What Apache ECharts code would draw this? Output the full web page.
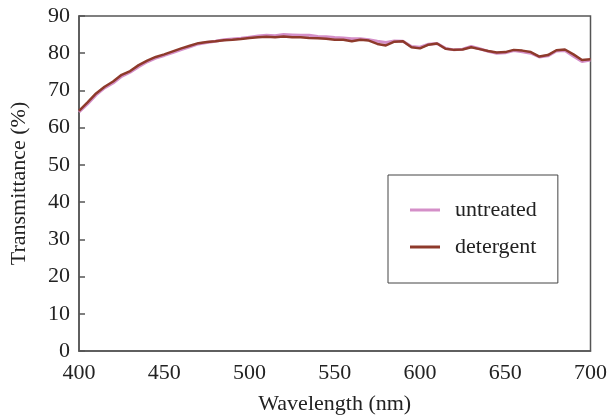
<!DOCTYPE html>
<html><head><meta charset="utf-8">
<script src="https://cdn.jsdelivr.net/npm/echarts@6/dist/echarts.min.js"></script>
<style>html,body{margin:0;padding:0;background:#fff}#c{width:610px;height:420px}</style>
</head><body><div id="c"></div>
<script>
const wavelength = [400,405,410,415,420,425,430,435,440,445,450,455,460,465,470,475,480,485,490,495,500,505,510,515,520,525,530,535,540,545,550,555,560,565,570,575,580,585,590,595,600,605,610,615,620,625,630,635,640,645,650,655,660,665,670,675,680,685,690,695,700];
const untreated = [64.2,66.4,68.8,70.7,72.0,73.8,74.9,76.4,77.7,78.7,79.4,80.2,81.0,81.7,82.5,82.9,83.2,83.6,83.8,84.0,84.3,84.6,84.8,84.7,85.0,84.9,84.8,84.8,84.5,84.4,84.2,84.1,83.9,83.9,83.6,83.2,82.9,83.3,83.2,81.8,81.6,82.4,82.6,81.3,80.9,81.1,81.8,81.2,80.5,80.0,80.1,80.7,80.4,80.0,79.0,79.3,80.6,80.7,79.2,77.8,78.2];
const detergent = [64.5,66.8,69.2,71.0,72.4,74.2,75.2,76.8,78.0,79.0,79.7,80.5,81.3,82.0,82.7,83.0,83.2,83.5,83.6,83.8,84.1,84.3,84.4,84.3,84.5,84.3,84.3,84.1,84.0,83.9,83.6,83.6,83.2,83.6,83.4,82.5,82.1,83.1,83.2,81.6,81.3,82.3,82.6,81.2,80.9,81.0,81.6,81.1,80.6,80.2,80.3,80.9,80.7,80.3,79.1,79.5,80.8,81.0,79.7,78.2,78.4];
const seriesNames = ['untreated','detergent'];
const xTicks = {min:400, max:700, interval:50};
const yTicks = {min:0, max:90, interval:10};

const font = 'Liberation Serif';
const fs = 22;
const chart = echarts.init(document.getElementById('c'), null, {renderer:'canvas'});
const pair = arr => wavelength.map((w,i)=>[w,arr[i]]);
chart.setOption({
  animation:false,
  backgroundColor:'#fff',
  grid:{left:77,right:15,top:16,bottom:66,show:true,borderColor:'#555',borderWidth:1.5,backgroundColor:'transparent'},
  xAxis:{type:'value',min:xTicks.min,max:xTicks.max,interval:xTicks.interval,
    name:'Wavelength (nm)',nameLocation:'middle',nameGap:42,
    nameTextStyle:{fontFamily:font,fontSize:fs,color:'#222'},
    axisLine:{show:true,lineStyle:{color:'#555',width:1.5}},
    axisTick:{show:false},splitLine:{show:false},
    axisLabel:{fontFamily:font,fontSize:fs,color:'#222',margin:11}},
  yAxis:{type:'value',min:yTicks.min,max:yTicks.max,interval:yTicks.interval,
    name:'Transmittance (%)',nameLocation:'middle',nameGap:49,
    nameTextStyle:{fontFamily:font,fontSize:fs,color:'#222'},
    axisLine:{show:true,lineStyle:{color:'#555',width:1.5}},
    axisTick:{show:true,inside:true,length:6,lineStyle:{color:'#555',width:1.5}},
    splitLine:{show:false},
    axisLabel:{fontFamily:font,fontSize:fs,color:'#222',margin:9}},
  legend:{orient:'vertical',left:388,top:175,
    borderColor:'#444',borderWidth:1,padding:[24,21,25,22],
    itemWidth:30,itemHeight:3,itemGap:15,icon:'rect',
    textStyle:{fontFamily:font,fontSize:fs,color:'#222',padding:[0,0,0,10]},
    data:seriesNames},
  series:[
    {name:seriesNames[0],type:'line',data:pair(untreated),showSymbol:false,
     lineStyle:{color:'#d48fc8',width:3},itemStyle:{color:'#d48fc8'}},
    {name:seriesNames[1],type:'line',data:pair(detergent),showSymbol:false,
     lineStyle:{color:'#8e3a2b',width:2.5},itemStyle:{color:'#8e3a2b'}}
  ]
});
</script></body></html>
